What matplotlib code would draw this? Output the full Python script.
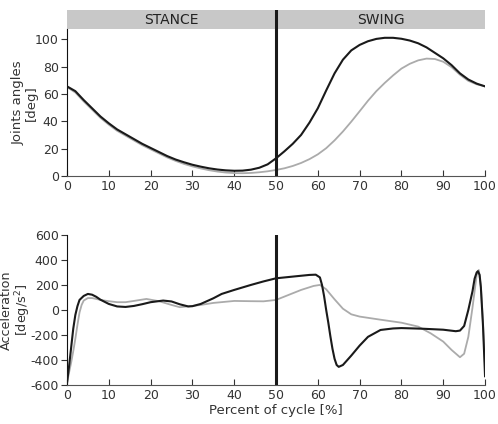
import matplotlib
matplotlib.use("Agg")
import matplotlib.pyplot as plt

plt.rcParams['font.family'] = ['DejaVu Sans']
plt.rcParams['axes.unicode_minus'] = False

# ---- top panel: joint angles ----
ang_x = [0, 2, 4, 6, 8, 10, 12, 14, 16, 18, 20, 22, 24, 26, 28, 30, 32, 34, 36, 38, 40,
         42, 44, 46, 48, 50, 52, 54, 56, 58, 60, 62, 64, 66, 68, 70, 72, 74, 76, 78, 80,
         82, 84, 86, 88, 90, 92, 94, 96, 98, 100]
ang_black = [65.5, 62, 55.5, 49.5, 43.5, 38.5, 34, 30.5, 27, 23.5, 20.5, 17.5, 14.5, 12, 10,
             8.2, 6.8, 5.6, 4.7, 4.1, 3.8, 3.9, 4.6, 6, 8.5, 12.9, 18, 23.5, 30, 39, 49.5, 62.5,
             75, 85, 91.8, 95.8, 98.5, 100.2, 101, 101, 100.3, 99, 97, 94, 90, 86, 81, 75,
             70.5, 67.5, 65.5]
ang_gray = [65, 61, 54.5, 48.5, 42.5, 37.5, 33, 29.5, 26, 22.5, 19.5, 16.5, 13.5, 11, 8.8,
            7, 5.5, 4.2, 3.2, 2.5, 2.1, 2, 2.2, 2.7, 3.4, 4.4, 5.6, 7.3, 9.5, 12.3, 15.8, 20.3,
            26, 32.5, 39.7, 47.3, 55, 62, 68, 73.5, 78.5, 82, 84.5, 85.8, 85.5, 83.5, 79.5,
            74, 69.5, 67, 65.5]

# ---- bottom panel: accelerations ----
acc_black_x = [0, 0.5, 1, 1.5, 2, 2.5, 3, 4, 5, 6, 7, 8, 10, 12, 14, 16, 18, 20, 23, 25, 27,
               29, 30, 32, 35, 37, 40, 44, 47, 50, 55, 58, 59.5, 60.5, 61, 61.5, 62, 62.5,
               63, 63.5, 64, 64.5, 65, 66, 68, 70, 72, 75, 78, 80, 85, 90, 93, 94, 95, 96,
               97, 97.5, 98, 98.3, 98.7, 99, 99.5, 100]
acc_black = [-585, -450, -300, -150, -40, 30, 80, 112, 128, 122, 105, 82, 48, 28, 24, 32, 46,
             62, 75, 68, 45, 28, 30, 48, 93, 128, 160, 200, 228, 253, 270, 280, 282, 260,
             200, 110, 0, -100, -210, -310, -390, -440, -455, -440, -365, -285, -215, -160,
             -148, -145, -150, -158, -170, -165, -128, 0, 150, 250, 300, 310, 280, 180,
             -120, -530]
acc_gray_x = [0, 0.5, 1, 1.5, 2, 2.5, 3, 3.5, 4, 5, 6, 7, 8, 10, 12, 14, 16, 19, 22, 25, 27,
              30, 32, 35, 40, 44, 47, 50, 53, 56, 59, 60.5, 62, 64, 66, 68, 70, 75, 80, 84,
              87, 90, 92, 94, 95, 96, 97, 98, 98.5, 99, 99.5, 100]
acc_gray = [-585, -500, -420, -330, -230, -120, -20, 40, 75, 95, 95, 88, 80, 70, 62, 62, 72,
            88, 70, 40, 22, 32, 40, 56, 72, 70, 69, 80, 120, 160, 192, 200, 165, 85, 10, -35,
            -53, -78, -102, -133, -187, -253, -320, -378, -350, -215, 20, 280, 320, 190,
            -100, -450]

phase_labels = ['STANCE', 'SWING']
phase_split = 50

BLACK = '#1a1a1a'
GRAY = '#ababab'
BAND = '#c8c8c8'

fig = plt.figure(figsize=(4.98, 4.24), dpi=100)
ax1 = fig.add_axes([0.1345, 0.585, 0.8395, 0.391])
ax2 = fig.add_axes([0.1345, 0.092, 0.8395, 0.354])

band_lo, band_hi = 107.3, 121.2

for ax in (ax1, ax2):
    for s in ('top', 'right'):
        ax.spines[s].set_visible(False)
    ax.spines['left'].set_color('#111111')
    ax.spines['bottom'].set_color('#555555')
    ax.tick_params(axis='x', direction='in', length=4, width=0.8, color='#333333',
                   labelsize=9, labelcolor='#333333', pad=3)
    ax.tick_params(axis='y', direction='out', length=4, width=0.8, color='#333333',
                   labelsize=9, labelcolor='#333333', pad=2)
    ax.set_xlim(0, 100)
    ax.set_xticks(range(0, 101, 10))

# top
ax1.axhspan(band_lo, band_hi, color=BAND, lw=0, zorder=0)
ax1.plot(ang_x, ang_gray, color=GRAY, lw=1.3, zorder=2)
ax1.plot(ang_x, ang_black, color=BLACK, lw=1.5, zorder=3)
ax1.axvline(phase_split, color=BLACK, lw=2.2, zorder=4)
ax1.set_ylim(0, band_hi)
ax1.spines['left'].set_bounds(0, band_lo)
ax1.set_yticks(range(0, 101, 20))
ax1.text(25, (band_lo + band_hi) / 2, phase_labels[0], ha='center', va='center',
         fontsize=10, color='#222222')
ax1.text(75, (band_lo + band_hi) / 2, phase_labels[1], ha='center', va='center',
         fontsize=10, color='#222222')
ax1.set_ylabel('Joints angles\n[deg]', fontsize=9.5, color='#333333', linespacing=1.0)
ax1.yaxis.set_label_coords(-0.07, 0.44)

# bottom
ax2.plot(acc_gray_x, acc_gray, color=GRAY, lw=1.3, zorder=2)
ax2.plot(acc_black_x, acc_black, color=BLACK, lw=1.5, zorder=3)
ax2.axvline(phase_split, color=BLACK, lw=2.2, zorder=4)
ax2.set_ylim(-600, 600)
ax2.set_yticks(range(-600, 601, 200))
ax2.set_ylabel('Acceleration\n[deg/s$^2$]', fontsize=9.2, color='#333333', linespacing=1.0)
ax2.yaxis.set_label_coords(-0.082, 0.5)
ax2.set_xlabel('Percent of cycle [%]', fontsize=9.5, color='#333333', labelpad=1)

fig.savefig('out.png', dpi=100)
